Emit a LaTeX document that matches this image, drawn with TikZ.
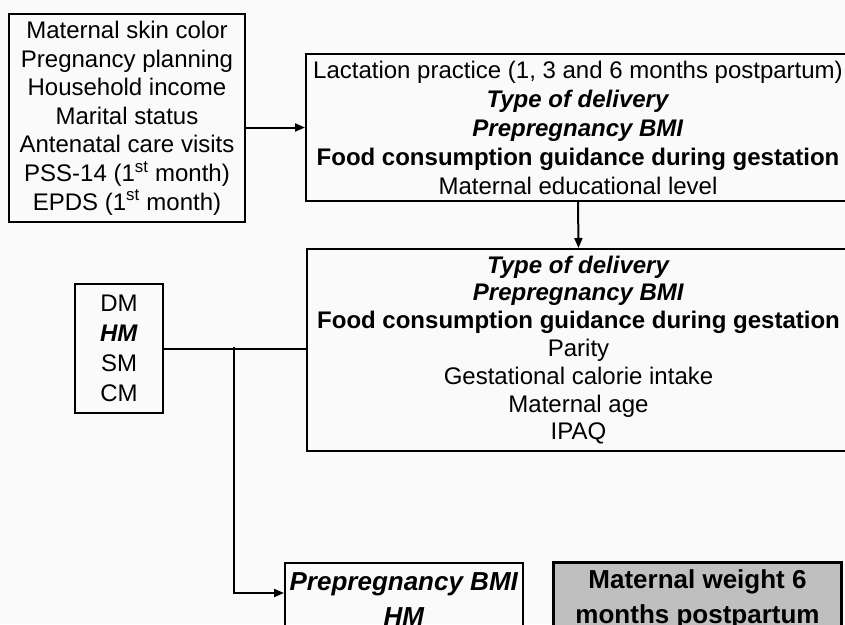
\documentclass[tikz,border=0pt]{standalone}
\usepackage{fontspec}
\setmainfont{Liberation Sans}
\usetikzlibrary{arrows.meta,calc}
\tikzset{
  box/.style={draw=black, line width=2pt, inner sep=0pt, align=center, anchor=north west},
  conn/.style={draw=black, line width=2pt},
  arr/.style={conn, -{Triangle[length=10pt,width=8pt]}},
}
\newcommand{\bi}[1]{\textbf{\textit{#1}}}
\begin{document}
\begin{tikzpicture}[x=1pt,y=-1pt]
\useasboundingbox (0,0) rectangle (845,624);
\clip (0,0) rectangle (845,624);
\fill[white!98!black] (0,0) rectangle (845,624);

\node[box, minimum width=236pt, minimum height=208pt,
      font=\fontsize{24}{28.6}\selectfont] (b1) at (8,13)
  {Maternal skin color\\Pregnancy planning\\Household income\\Marital status\\Antenatal care visits\\PSS-14 (1\textsuperscript{st} month)\\EPDS (1\textsuperscript{st} month)};

\node[box, minimum width=544pt, minimum height=147pt,
      font=\fontsize{24}{29}\selectfont] (b2) at (305,53)
  {Lactation practice (1, 3 and 6 months postpartum)\\\bi{Type of delivery}\\\bi{Prepregnancy BMI}\\\textbf{Food consumption guidance during gestation}\\Maternal educational level};

\node[box, minimum width=543pt, minimum height=202pt,
      font=\fontsize{24}{27.8}\selectfont] (b3) at (306,248)
  {\bi{Type of delivery}\\\bi{Prepregnancy BMI}\\\textbf{Food consumption guidance during gestation}\\Parity\\Gestational calorie intake\\Maternal age\\IPAQ};

\node[box, minimum width=88pt, minimum height=129pt,
      font=\fontsize{24}{30}\selectfont] (dm) at (74,283)
  {DM\\\bi{HM}\\SM\\CM};

\node[box, minimum width=238pt, minimum height=72pt,
      font=\fontsize{26}{35}\selectfont] (b4) at (284,562)
  {\bi{Prepregnancy BMI}\\\bi{HM}};

\node[box, fill=black!25, line width=3pt, minimum width=288pt, minimum height=74pt,
      font=\fontsize{26}{35}\selectfont] (b5) at (552,561)
  {\textbf{Maternal weight 6}\\\textbf{months postpartum}};

\coordinate (j) at (234,347);

\draw[arr] (b1.east |- b2.west) -- (b2.west);
\draw[arr] (b2.south) -- (b3.north);
\draw[conn] (dm.east) -- (dm.east -| b3.west);
\draw[arr] (j) -- (j |- 0,593) -- (b4.west |- 0,593);
\end{tikzpicture}
\end{document}
